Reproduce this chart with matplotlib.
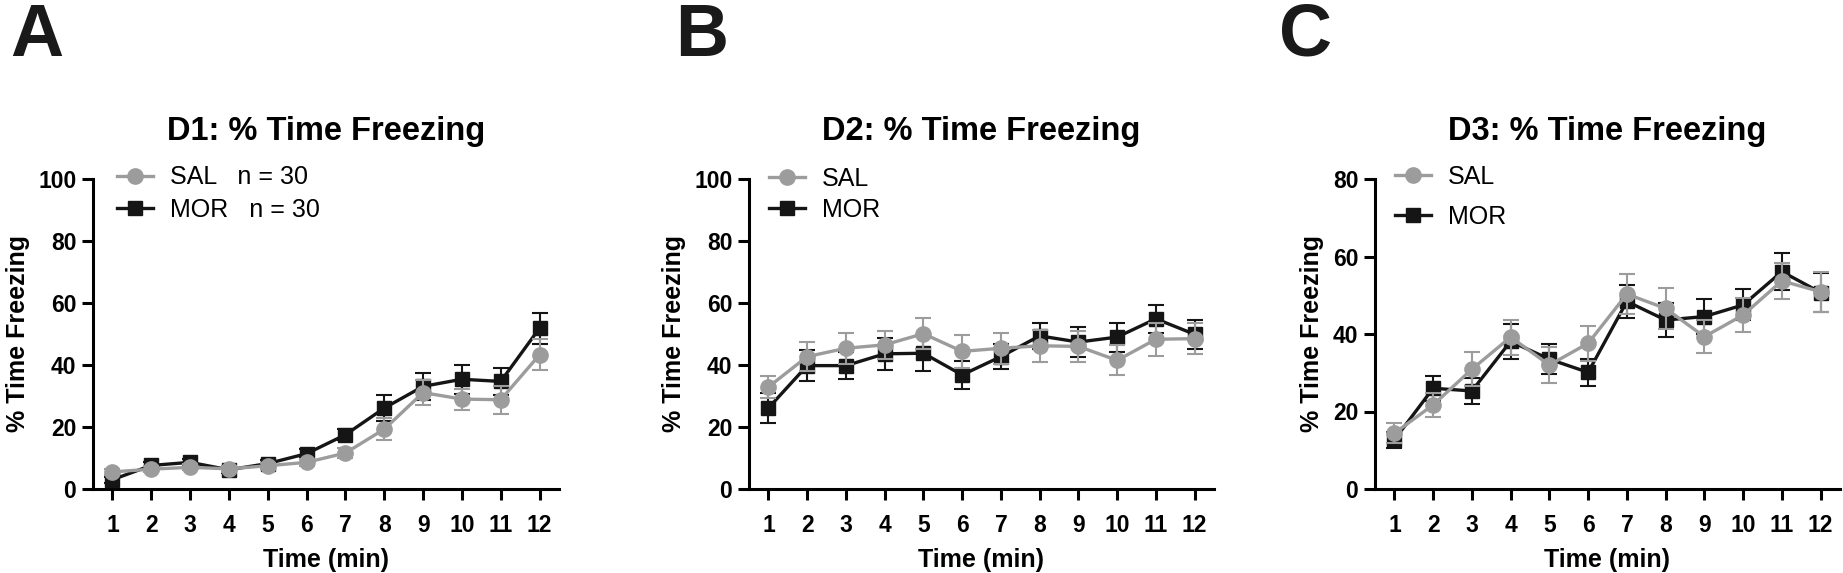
import matplotlib
matplotlib.use("Agg")
import matplotlib.pyplot as plt
from matplotlib.lines import Line2D
import numpy as np

plt.rcParams['font.family'] = ['Liberation Sans', 'DejaVu Sans']

minutes = list(range(1, 13))

# D1
sal_d1 = [5.5, 6.4, 7.0, 6.5, 7.5, 8.6, 11.6, 19.3, 31.1, 29.0, 28.8, 43.3]
sal_d1_err = [1.0, 1.0, 1.0, 1.0, 1.0, 1.2, 1.5, 3.5, 4.0, 3.4, 4.5, 5.0]
mor_d1 = [3.0, 7.6, 8.6, 6.2, 8.2, 11.4, 17.5, 26.1, 33.1, 35.4, 34.7, 51.9]
mor_d1_err = [1.0, 1.2, 1.2, 1.0, 1.2, 1.5, 1.8, 4.3, 4.3, 4.6, 4.3, 5.0]

# D2
sal_d2 = [32.9, 42.7, 45.4, 46.5, 50.1, 44.4, 45.4, 46.2, 46.0, 41.5, 48.3, 48.5]
sal_d2_err = [3.6, 4.6, 5.0, 4.5, 5.0, 5.4, 5.0, 5.2, 5.0, 4.8, 5.4, 5.0]
mor_d2 = [26.1, 39.8, 39.8, 43.6, 43.8, 36.8, 42.7, 49.4, 47.4, 49.0, 54.9, 49.9]
mor_d2_err = [4.8, 4.9, 4.4, 5.1, 5.6, 4.6, 4.1, 4.3, 4.7, 4.7, 4.5, 4.7]

# D3
sal_d3 = [14.4, 21.7, 30.9, 39.2, 32.0, 37.6, 50.3, 46.6, 39.3, 44.9, 53.7, 50.9]
sal_d3_err = [2.6, 3.2, 4.4, 4.5, 4.6, 4.5, 5.1, 5.4, 4.3, 4.3, 4.6, 5.2]
mor_d3 = [12.7, 26.0, 25.3, 38.1, 33.5, 30.1, 48.4, 43.6, 44.5, 47.5, 56.1, 50.7]
mor_d3_err = [2.1, 3.2, 3.4, 4.6, 3.9, 3.4, 4.3, 4.3, 4.5, 4.0, 4.7, 5.0]

titles = ["D1: % Time Freezing", "D2: % Time Freezing", "D3: % Time Freezing"]
letters = ["A", "B", "C"]
ymaxes = [100, 100, 80]
legend_labels = [["SAL   n = 30", "MOR   n = 30"], ["SAL", "MOR"], ["SAL", "MOR"]]

SAL_COLOR = "#9c9c9c"
MOR_COLOR = "#151515"

W, H = 1843, 573
fig = plt.figure(figsize=(W / 100, H / 100), dpi=100)

# axes boxes in pixels: left, right (top 179, bottom 489)
boxes = [(93, 559), (749, 1214), (1375, 1840)]
letter_x = [10, 675, 1279]
legend_anchor = [(0.052, 1.044), (0.043, 1.04), (0.043, 1.045)]
legend_spacing = [0.34, 0.3, 0.62]

data = [
    (sal_d1, sal_d1_err, mor_d1, mor_d1_err),
    (sal_d2, sal_d2_err, mor_d2, mor_d2_err),
    (sal_d3, sal_d3_err, mor_d3, mor_d3_err),
]

for i in range(3):
    l, r = boxes[i]
    ax = fig.add_axes([l / W, 1 - 489 / H, (r - l) / W, 310 / H])
    sal, sal_err, mor, mor_err = data[i]

    ax.errorbar(minutes, mor, yerr=mor_err, color=MOR_COLOR, marker="s", markersize=10,
                linewidth=2.4, elinewidth=1.5, capsize=6, capthick=1.5, clip_on=False, zorder=3)
    ax.errorbar(minutes, sal, yerr=sal_err, color=SAL_COLOR, marker="o", markersize=11,
                linewidth=2.4, elinewidth=1.5, capsize=6, capthick=1.5, clip_on=False, zorder=4)

    ax.set_xlim(0.5, 12.5)
    ax.set_ylim(0, ymaxes[i])
    ax.set_xticks(minutes)
    ax.set_yticks(np.arange(0, ymaxes[i] + 1, 20))
    ax.spines['top'].set_visible(False)
    ax.spines['right'].set_visible(False)
    for s in ['left', 'bottom']:
        ax.spines[s].set_linewidth(2.2)
        ax.spines[s].set_color("black")
    ax.tick_params(axis='both', direction='out', length=8, width=2.2, labelsize=16.5)
    ax.tick_params(axis='x', pad=10)
    ax.tick_params(axis='y', pad=4)
    for lab in ax.get_xticklabels() + ax.get_yticklabels():
        lab.set_fontweight('bold')

    ax.set_xlabel("Time (min)", fontsize=18, fontweight='bold', labelpad=8)
    ax.set_ylabel("% Time Freezing", fontsize=18, fontweight='bold', labelpad=6)
    ax.set_title(titles[i], fontsize=23.5, fontweight='bold', pad=28)

    handles = [
        Line2D([0], [0], color=SAL_COLOR, marker="o", markersize=11, linewidth=2.4),
        Line2D([0], [0], color=MOR_COLOR, marker="s", markersize=10, linewidth=2.4),
    ]
    ax.legend(handles, legend_labels[i], loc='upper left', bbox_to_anchor=legend_anchor[i],
              frameon=False, fontsize=18, handlelength=1.45, handletextpad=0.68,
              labelspacing=legend_spacing[i], borderpad=0, borderaxespad=0)

    fig.text(letter_x[i] / W, 1 - 56 / H, letters[i], fontsize=53, fontweight='bold',
             color="#1a1a1a", ha='left', va='baseline')

fig.savefig("out.png", dpi=100)
